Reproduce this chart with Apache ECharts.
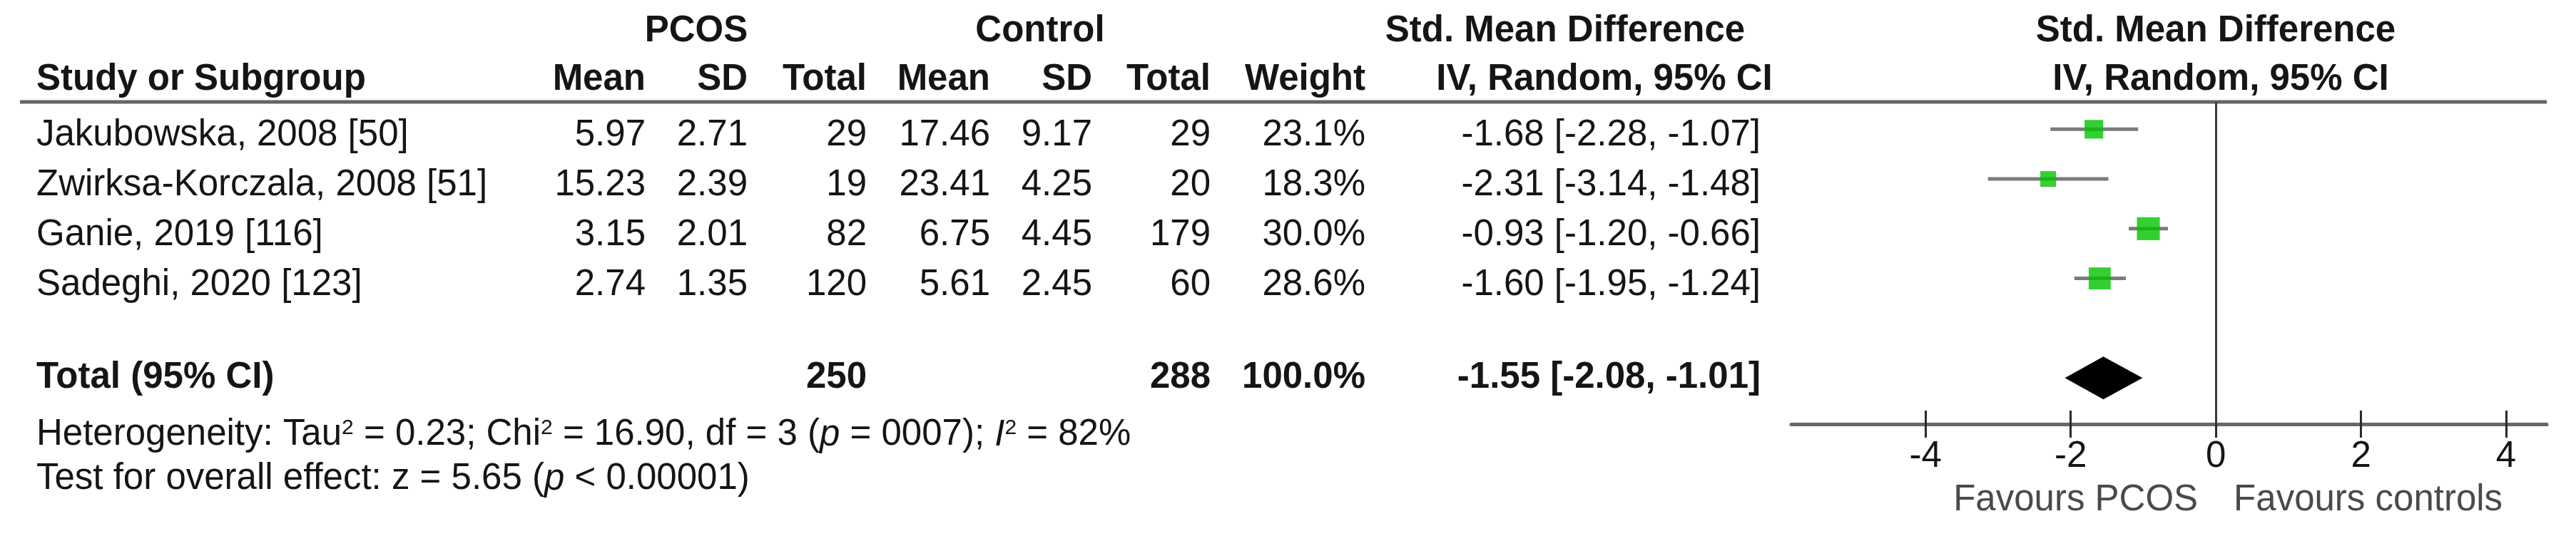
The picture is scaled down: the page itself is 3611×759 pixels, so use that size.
<!DOCTYPE html>
<html>
<head>
<meta charset="utf-8">
<script src="https://cdn.jsdelivr.net/npm/echarts@6/dist/echarts.min.js"></script>
<style>
html,body{margin:0;padding:0;background:#fff;}
#chart{width:3611px;height:759px;}
</style>
</head>
<body>
<div id="chart"></div>
<script>
// ---------------- DATA ----------------
const studies   = ['Jakubowska, 2008 [50]', 'Zwirksa-Korczala, 2008 [51]', 'Ganie, 2019 [116]', 'Sadeghi, 2020 [123]'];
const pcosMean  = [5.97, 15.23, 3.15, 2.74];
const pcosSD    = [2.71, 2.39, 2.01, 1.35];
const pcosN     = [29, 19, 82, 120];
const ctrlMean  = [17.46, 23.41, 6.75, 5.61];
const ctrlSD    = [9.17, 4.25, 4.45, 2.45];
const ctrlN     = [29, 20, 179, 60];
const weights   = [23.1, 18.3, 30.0, 28.6];
const smd       = [-1.68, -2.31, -0.93, -1.60];
const ciLow     = [-2.28, -3.14, -1.20, -1.95];
const ciHigh    = [-1.07, -1.48, -0.66, -1.24];

const totalLabel  = 'Total (95% CI)';
const totalPcosN  = 250;
const totalCtrlN  = 288;
const totalWeight = 100.0;
const totalSmd    = -1.55;
const totalLow    = -2.08;
const totalHigh   = -1.01;

const xTicks = [-4, -2, 0, 2, 4];

const tau2 = 0.23, chi2 = 16.90, hetDf = 3, hetP = '0007', i2 = 82;
const zValue = 5.65, overallP = '0.00001';

const favourLeft  = 'Favours PCOS';
const favourRight = 'Favours controls';

// ---------------- STYLE / LAYOUT ----------------
const FONT = '"Liberation Sans", Arial, Helvetica, sans-serif';
const FS = 51;
const TXT = '#151515';
const GRID_TOP = 143, GRID_BOTTOM = 164;
const Y_MIN = -0.55, Y_MAX = 5.93;
const TOTAL_ROW = 5;
const X_MIN = -5.85, X_MAX = 4.56;
const col = { study: 51, pcosMean: 905, pcosSD: 1048, pcosN: 1215, ctrlMean: 1388, ctrlSD: 1531, ctrlN: 1697, weight: 1914, smd: 2468,
              pcosHead: 976, ctrlHead: 1458, smdHead: 2194, smdSub: 2249, plotHead: 3106, plotSub: 3113, lineL: 28, lineR: 3570 };
const rowV = { h1: -1.97, h2: -0.99, het: 6.15, test: 7.04, fav: 7.47 };
const ROW_DY = 9;

const f2 = v => v.toFixed(2);
const ciText = (e, l, h) => `${f2(e)} [${f2(l)}, ${f2(h)}]`;

// ---------------- TABLE CELLS ----------------
const cells = [];
function cell(x, v, text, align, bold, dy, rich) {
  cells.push({ x, v, text, align, bold, dy: dy || 0, rich });
}
// headers
cell(col.pcosHead, rowV.h1, 'PCOS', 'center', true);
cell(col.ctrlHead, rowV.h1, 'Control', 'center', true);
cell(col.smdHead, rowV.h1, 'Std. Mean Difference', 'center', true);
cell(col.plotHead, rowV.h1, 'Std. Mean Difference', 'center', true);
cell(col.study, rowV.h2, 'Study or Subgroup', 'left', true);
cell(col.pcosMean, rowV.h2, 'Mean', 'right', true);
cell(col.pcosSD, rowV.h2, 'SD', 'right', true);
cell(col.pcosN, rowV.h2, 'Total', 'right', true);
cell(col.ctrlMean, rowV.h2, 'Mean', 'right', true);
cell(col.ctrlSD, rowV.h2, 'SD', 'right', true);
cell(col.ctrlN, rowV.h2, 'Total', 'right', true);
cell(col.weight, rowV.h2, 'Weight', 'right', true);
cell(col.smdSub, rowV.h2, 'IV, Random, 95% CI', 'center', true);
cell(col.plotSub, rowV.h2, 'IV, Random, 95% CI', 'center', true);
// study rows
studies.forEach((s, i) => {
  cell(col.study, i, s, 'left', false, ROW_DY);
  cell(col.pcosMean, i, f2(pcosMean[i]), 'right', false, ROW_DY);
  cell(col.pcosSD, i, f2(pcosSD[i]), 'right', false, ROW_DY);
  cell(col.pcosN, i, String(pcosN[i]), 'right', false, ROW_DY);
  cell(col.ctrlMean, i, f2(ctrlMean[i]), 'right', false, ROW_DY);
  cell(col.ctrlSD, i, f2(ctrlSD[i]), 'right', false, ROW_DY);
  cell(col.ctrlN, i, String(ctrlN[i]), 'right', false, ROW_DY);
  cell(col.weight, i, weights[i].toFixed(1) + '%', 'right', false, ROW_DY);
  cell(col.smd, i, ciText(smd[i], ciLow[i], ciHigh[i]), 'right', false, ROW_DY);
});
// total row
cell(col.study, TOTAL_ROW, totalLabel, 'left', true);
cell(col.pcosN, TOTAL_ROW, String(totalPcosN), 'right', true);
cell(col.ctrlN, TOTAL_ROW, String(totalCtrlN), 'right', true);
cell(col.weight, TOTAL_ROW, totalWeight.toFixed(1) + '%', 'right', true);
cell(col.smd, TOTAL_ROW, ciText(totalSmd, totalLow, totalHigh), 'right', true);
// footnotes (rich text)
const richStyles = {
  n: { fontSize: FS, fontFamily: FONT, fill: TXT },
  i: { fontSize: FS, fontFamily: FONT, fill: TXT, fontStyle: 'italic' },
  s: { fontSize: 30, fontFamily: FONT, fill: TXT, padding: [0, 0, 20, 0] }
};
cell(col.study, rowV.het,
  `{n|Heterogeneity: Tau}{s|2}{n| = ${f2(tau2)}; Chi}{s|2}{n| = ${f2(chi2)}, df = ${hetDf} (}{i|p}{n| = ${hetP}); }{i|I}{s|2}{n| = ${i2}%}`,
  'left', false, 0, true);
cell(col.study, rowV.test,
  `{n|Test for overall effect: z = ${f2(zValue)} (}{i|p}{n| < ${overallP})}`,
  'left', false, 0, true);

// ---------------- CHART ----------------
const chart = echarts.init(document.getElementById('chart'), null, { renderer: 'canvas' });

const squareSize = w => 6.4 + 0.855 * w;

const option = {
  backgroundColor: '#ffffff',
  animation: false,
  grid: [
    { left: 2511, right: 41, top: GRID_TOP, bottom: GRID_BOTTOM, containLabel: false, outerBoundsMode: 'none' },
    { left: 0, right: 0, top: GRID_TOP, bottom: GRID_BOTTOM, containLabel: false, outerBoundsMode: 'none' }
  ],
  xAxis: [
    {
      gridIndex: 0, type: 'value', min: X_MIN, max: X_MAX, position: 'bottom',
      axisLine: { show: true, onZero: false, lineStyle: { color: '#676767', width: 5 } },
      axisTick: { show: true, customValues: xTicks, length: 19, lineStyle: { color: '#2a2a2a', width: 3 } },
      axisLabel: { show: true, customValues: xTicks, fontSize: FS, fontFamily: FONT, color: TXT, margin: 20,
                   formatter: v => String(v) },
      splitLine: { show: false }
    },
    {
      gridIndex: 0, type: 'value', min: X_MIN, max: X_MAX, position: 'bottom',
      axisLine: { show: false, onZero: false },
      axisTick: { show: true, inside: true, customValues: xTicks, length: 19, lineStyle: { color: '#2a2a2a', width: 3 } },
      axisLabel: { show: false },
      splitLine: { show: false }
    },
    { gridIndex: 1, type: 'value', min: 0, max: 3611, show: false, splitLine: { show: false } }
  ],
  yAxis: [
    { gridIndex: 0, type: 'value', inverse: true, min: Y_MIN, max: Y_MAX, show: false, splitLine: { show: false } },
    { gridIndex: 1, type: 'value', inverse: true, min: Y_MIN, max: Y_MAX, show: false, splitLine: { show: false } }
  ],
  series: [
    // header rule
    {
      type: 'line', xAxisIndex: 2, yAxisIndex: 1, clip: false, silent: true,
      data: [[col.lineL, Y_MIN], [col.lineR, Y_MIN]],
      symbol: 'none', lineStyle: { color: '#646464', width: 5 }, z: 2
    },
    // table text
    {
      type: 'custom', xAxisIndex: 2, yAxisIndex: 1, clip: false, silent: true, z: 5,
      data: cells.map(c => [c.x, c.v]),
      renderItem: (params, api) => {
        const c = cells[params.dataIndex];
        const p = api.coord([c.x, c.v]);
        const style = {
          legacy: false,
          text: c.text,
          x: p[0], y: p[1] + c.dy,
          align: c.align, verticalAlign: 'middle',
          fontSize: FS, fontFamily: FONT, fontWeight: c.bold ? 'bold' : 'normal',
          fill: TXT
        };
        if (c.rich) style.rich = richStyles;
        return { type: 'text', style };
      }
    },
    // CI whiskers
    {
      type: 'custom', xAxisIndex: 0, yAxisIndex: 0, silent: true, z: 3,
      data: studies.map((s, i) => [ciLow[i], ciHigh[i], i]),
      encode: { x: [0, 1], y: 2 },
      renderItem: (params, api) => {
        const a = api.coord([api.value(0), api.value(2)]);
        const b = api.coord([api.value(1), api.value(2)]);
        return { type: 'line', shape: { x1: a[0], y1: a[1], x2: b[0], y2: b[1] },
                 style: { stroke: '#7b7b7b', lineWidth: 5 } };
      }
    },
    // study squares + zero line
    {
      type: 'scatter', xAxisIndex: 0, yAxisIndex: 0, silent: true, clip: false, z: 4,
      data: studies.map((s, i) => ({ value: [smd[i], i], symbolSize: squareSize(weights[i]) })),
      symbol: 'rect',
      itemStyle: { color: '#00c300' },
      markLine: {
        silent: true, symbol: 'none', label: { show: false },
        lineStyle: { color: '#3a3a3a', width: 3, type: 'solid' },
        data: [{ xAxis: 0 }]
      }
    },
    // pooled diamond
    {
      type: 'custom', xAxisIndex: 0, yAxisIndex: 0, silent: true, z: 4,
      data: [[totalLow, totalHigh, totalSmd, TOTAL_ROW]],
      encode: { x: [0, 1, 2], y: 3 },
      renderItem: (params, api) => {
        const v = api.value(3);
        const l = api.coord([api.value(0), v]);
        const r = api.coord([api.value(1), v]);
        const c = api.coord([api.value(2), v]);
        const h = 30;
        return { type: 'polygon', shape: { points: [[l[0], l[1]], [c[0], c[1] - h], [r[0], r[1]], [c[0], c[1] + h]] },
                 style: { fill: '#000000' } };
      }
    },
    // favours labels
    {
      type: 'custom', xAxisIndex: 0, yAxisIndex: 0, silent: true, clip: false, z: 5,
      data: [[0, rowV.fav, -1], [0, rowV.fav, 1]],
      renderItem: (params, api) => {
        const side = api.value(2);
        const p = api.coord([api.value(0), api.value(1)]);
        return { type: 'text', style: {
          legacy: false,
          text: side < 0 ? favourLeft : favourRight,
          x: p[0] + side * 25, y: p[1],
          align: side < 0 ? 'right' : 'left', verticalAlign: 'middle',
          fontSize: FS, fontFamily: FONT, fill: '#4a4a4a'
        } };
      }
    }
  ]
};
chart.setOption(option);
</script>
</body>
</html>
